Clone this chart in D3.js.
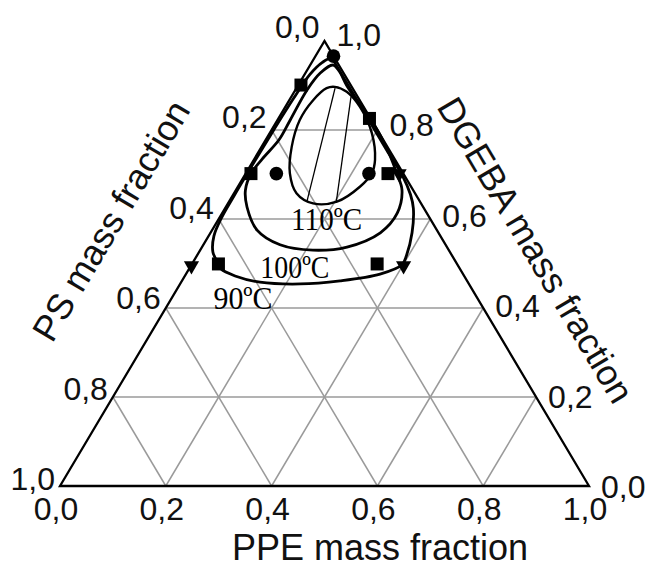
<!DOCTYPE html>
<html><head><meta charset="utf-8">
<script src="https://cdn.jsdelivr.net/npm/d3@7"></script>
<style>body{margin:0;background:#fff;} svg{display:block;}</style>
</head><body>
<svg id="c" width="646" height="567"></svg>
<script>
// ---- data (ternary points given as [PPE, DGEBA]; PS = 1 - PPE - DGEBA) ----
const ticks = [0, 0.2, 0.4, 0.6, 0.8, 1.0];
const tickLabels = ["0,0", "0,2", "0,4", "0,6", "0,8", "1,0"];
const gridValues = [0.2, 0.4, 0.6, 0.8];
const axisTitles = ["PPE mass fraction", "DGEBA mass fraction", "PS mass fraction"];

const curve90 = [
  [0.050,0.499],[0.026,0.526],[0.010,0.562],[0.004,0.602],[0.003,0.650],
  [0.003,0.720],[0.004,0.800],[0.006,0.870],[0.010,0.925],[0.020,0.952],
  [0.033,0.962],[0.045,0.950],[0.070,0.925],[0.115,0.880],[0.175,0.820],
  [0.240,0.755],[0.300,0.696],[0.335,0.655],[0.356,0.624],[0.381,0.569],
  [0.396,0.518],[0.398,0.497],[0.367,0.476],[0.299,0.461],[0.227,0.454],
  [0.149,0.458],[0.095,0.472],[0.060,0.488]
];
const curve100 = [
  [0.043,0.946],[0.028,0.928],[0.022,0.890],[0.024,0.822],[0.025,0.778],
  [0.015,0.735],[0.010,0.702],[0.018,0.665],[0.040,0.627],[0.085,0.575],
  [0.145,0.542],[0.213,0.530],[0.274,0.537],[0.321,0.569],[0.331,0.613],
  [0.314,0.665],[0.285,0.703],[0.246,0.750],[0.192,0.808],[0.133,0.862],
  [0.092,0.900],[0.062,0.932]
];
const curve110 = [
  [0.071,0.897],[0.057,0.894],[0.045,0.867],[0.042,0.822],[0.057,0.762],
  [0.083,0.703],[0.118,0.658],[0.161,0.635],[0.204,0.639],[0.231,0.673],
  [0.238,0.703],[0.229,0.733],[0.193,0.793],[0.141,0.852],[0.099,0.886]
];
const hatch110 = [
  [[0.073,0.894],[0.147,0.640]],
  [[0.113,0.874],[0.204,0.636]]
];
const circlePts = [[0.034,0.966],[0.058,0.702],[0.233,0.702]];
const squarePts = [[0.005,0.901],[0.172,0.826],[0.010,0.702],[0.269,0.702],[0.050,0.499],[0.350,0.499]];
const trianglePts = [[0.001,0.495],[0.290,0.702],[0.402,0.495]];
const curveLabels = ["110ºC", "100ºC", "90ºC"];
const curveLabelAt = [[0.2165,0.575],[0.2106,0.4667],[0.147,0.3978]];

// ---- layout ----
const svg = d3.select("#c");
const xs = d3.scaleLinear().domain([0,1]).range([60,589]);
const ys = d3.scaleLinear().domain([0,1]).range([486,41]);
const proj = ([p,d]) => [xs(p + d/2), ys(d)];

// grid
const gridSegs = [];
gridValues.forEach(k => {
  gridSegs.push([[0,k],[1-k,k]]);        // constant DGEBA
  gridSegs.push([[k,0],[k,1-k]]);        // constant PPE
  gridSegs.push([[1-k,0],[0,1-k]]);      // constant PS
});
svg.append("g").selectAll("line").data(gridSegs).join("line")
  .attr("x1", s => proj(s[0])[0]).attr("y1", s => proj(s[0])[1])
  .attr("x2", s => proj(s[1])[0]).attr("y2", s => proj(s[1])[1])
  .attr("stroke", "#9a9a9a").attr("stroke-width", 1.5);

// triangle frame
const frame = [[0,0],[1,0],[0,1]];
svg.append("path")
  .attr("d", d3.line().curve(d3.curveLinearClosed)(frame.map(proj)))
  .attr("fill", "none").attr("stroke", "#000").attr("stroke-width", 2.3)
  .attr("stroke-linejoin", "miter");

// hatch lines
svg.append("g").selectAll("line").data(hatch110).join("line")
  .attr("x1", s => proj(s[0])[0]).attr("y1", s => proj(s[0])[1])
  .attr("x2", s => proj(s[1])[0]).attr("y2", s => proj(s[1])[1])
  .attr("stroke", "#000").attr("stroke-width", 1.3);

// curves
const lineGen = d3.line().curve(d3.curveCatmullRomClosed.alpha(0.5));
[curve90, curve100, curve110].forEach((c, i) => {
  svg.append("path").attr("d", lineGen(c.map(proj)))
    .attr("fill", "none").attr("stroke", "#000")
    .attr("stroke-width", i === 2 ? 2.4 : 2.8);
});

// markers
svg.append("g").selectAll("circle").data(circlePts).join("circle")
  .attr("cx", d => proj(d)[0]).attr("cy", d => proj(d)[1]).attr("r", 6.8).attr("fill", "#000");
svg.append("g").selectAll("rect").data(squarePts).join("rect")
  .attr("x", d => proj(d)[0] - 6.5).attr("y", d => proj(d)[1] - 6.5)
  .attr("width", 13).attr("height", 13).attr("fill", "#000");
const triSym = d3.symbol().type(d3.symbolTriangle).size(100);
svg.append("g").selectAll("path").data(trianglePts).join("path")
  .attr("d", triSym)
  .attr("transform", d => `translate(${proj(d)[0]},${proj(d)[1]}) rotate(180)`)
  .attr("fill", "#000");

// curve labels
const labelWidths = [71, 69, 59];
svg.append("g").selectAll("text").data(curveLabels).join("text")
  .attr("x", (t,i) => proj(curveLabelAt[i])[0])
  .attr("y", (t,i) => proj(curveLabelAt[i])[1])
  .attr("text-anchor", "middle")
  .attr("textLength", (t,i) => labelWidths[i])
  .attr("lengthAdjust", "spacingAndGlyphs")
  .attr("font-family", "'Liberation Serif', 'Times New Roman', serif")
  .attr("font-size", 32).attr("fill", "#000")
  .text(t => t);

// tick labels
const tickFont = "'Liberation Sans', Arial, sans-serif";
const tg = svg.append("g").attr("font-family", tickFont).attr("font-size", 32).attr("fill", "#111");
// bottom: PPE
tg.selectAll("text.b").data(ticks).join("text").attr("class","b")
  .attr("x", v => proj([v,0])[0] - 4).attr("y", 520)
  .attr("text-anchor", "middle").text((v,i) => tickLabels[i]);
// left: PS (PS = v on left edge -> PPE = 0, DGEBA = 1 - v)
tg.selectAll("text.l").data(ticks).join("text").attr("class","l")
  .attr("x", v => proj([0,1-v])[0] - 5)
  .attr("y", v => proj([0,1-v])[1] + 4 - 7*(1-v))
  .attr("text-anchor", "end").text((v,i) => tickLabels[i]);
// right: DGEBA
tg.selectAll("text.r").data(ticks).join("text").attr("class","r")
  .attr("x", v => proj([1-v,v])[0] + 12)
  .attr("y", v => proj([1-v,v])[1] + 12 - 7*v)
  .attr("text-anchor", "start").text((v,i) => tickLabels[i]);

// axis titles
const titleG = svg.append("g").attr("font-family", tickFont).attr("font-size", 36).attr("fill", "#111");
titleG.append("text").attr("x", 380).attr("y", 560).attr("text-anchor", "middle").text(axisTitles[0]);
const ang = Math.atan2(ys(0) - ys(1), xs(0.5) - xs(0)) * 180 / Math.PI;
titleG.append("text")
  .attr("transform", `translate(535.7,250) rotate(${ang})`)
  .attr("text-anchor", "middle").attr("dy", "0.35em").text(axisTitles[1]);
titleG.append("text")
  .attr("transform", `translate(111,220.5) rotate(${-ang})`)
  .attr("text-anchor", "middle").attr("dy", "0.35em").text(axisTitles[2]);
</script>
</body></html>
